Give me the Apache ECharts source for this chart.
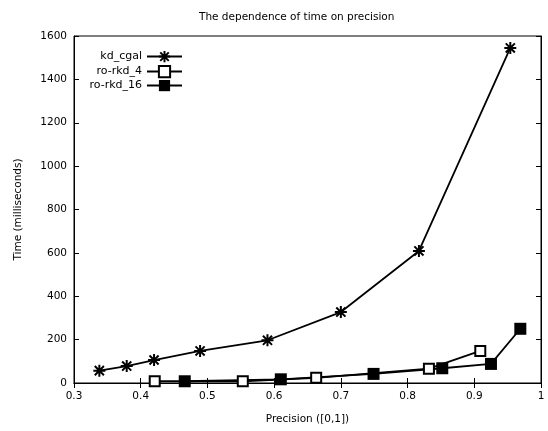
<!DOCTYPE html>
<html><head><meta charset="utf-8">
<script src="https://cdn.jsdelivr.net/npm/echarts@6/dist/echarts.min.js"></script>
<style>html,body{margin:0;padding:0;background:#fff}#c{width:548px;height:431px}</style>
</head><body><div id="c"></div>
<script>
var seriesNames = ['kd_cgal', 'ro-rkd_4', 'ro-rkd_16'];
var kdX = [0.338, 0.379, 0.420, 0.489, 0.590, 0.700, 0.817, 0.954];
var kdY = [57, 78, 106, 148, 197, 327, 609, 1545];
var rk4X = [0.421, 0.553, 0.663, 0.832, 0.909];
var rk4Y = [8, 8, 24, 66, 148];
var rk16X = [0.466, 0.610, 0.749, 0.852, 0.925, 0.969];
var rk16Y = [8, 17, 42, 68, 88, 250];
var xTicks = [0.3, 0.4, 0.5, 0.6, 0.7, 0.8, 0.9, 1];
var yTicks = [0, 200, 400, 600, 800, 1000, 1200, 1400, 1600];

function zip(xs, ys) { return xs.map(function (x, i) { return [x, ys[i]]; }); }
var FONT = 'DejaVu Sans';
var starPath = 'path://M5 0 L5 10 M0 5 L10 5 M1.2 1.2 L8.8 8.8 M1.2 8.8 L8.8 1.2';

var chart = echarts.init(document.getElementById('c'), null, {renderer: 'canvas'});
var tickStyle = {show: true, inside: true, length: 5, lineStyle: {color: '#000', width: 1}};
var lineAx = {show: true, lineStyle: {color: '#000', width: 1}};
var lbl = {color: '#000', fontFamily: FONT, fontSize: 10.5};

function legendFor(name, top) {
  return {
    data: [name], right: 365, top: top, padding: 0, align: 'right',
    itemWidth: 35, itemHeight: 14, selectedMode: false,
    textStyle: {color: '#000', fontFamily: FONT, fontSize: 11}
  };
}

chart.setOption({
  animation: false,
  backgroundColor: '#fff',
  title: {
    text: 'The dependence of time on precision', left: 194, top: 7,
    textStyle: {color: '#000', fontFamily: FONT, fontSize: 10.5, fontWeight: 'normal'}
  },
  legend: [legendFor(seriesNames[0], 50), legendFor(seriesNames[1], 65), legendFor(seriesNames[2], 80)],
  grid: {left: 74, right: 7, top: 36, bottom: 48, show: true, borderColor: '#000', borderWidth: 1, containLabel: false},
  xAxis: [{
    type: 'value', min: xTicks[0], max: xTicks[xTicks.length - 1], interval: 0.1,
    name: 'Precision ([0,1])', nameLocation: 'middle', nameGap: 31,
    nameTextStyle: {color: '#000', fontFamily: FONT, fontSize: 10.5},
    axisLine: lineAx, axisTick: tickStyle, splitLine: {show: false},
    axisLabel: Object.assign({margin: 8, formatter: function (v) { return String(+v.toFixed(1)); }}, lbl)
  }, {
    type: 'value', position: 'top', min: xTicks[0], max: xTicks[xTicks.length - 1], interval: 0.1,
    axisLine: lineAx, axisTick: tickStyle, axisLabel: {show: false}, splitLine: {show: false}
  }],
  yAxis: [{
    type: 'value', min: yTicks[0], max: yTicks[yTicks.length - 1], interval: 200,
    name: 'Time (milliseconds)', nameLocation: 'middle', nameGap: 50,
    nameTextStyle: {color: '#000', fontFamily: FONT, fontSize: 10.5},
    axisLine: lineAx, axisTick: tickStyle, splitLine: {show: false},
    axisLabel: Object.assign({margin: 7, formatter: function (v) { return String(v); }}, lbl)
  }, {
    type: 'value', position: 'right', min: yTicks[0], max: yTicks[yTicks.length - 1], interval: 200,
    axisLine: lineAx, axisTick: tickStyle, axisLabel: {show: false}, splitLine: {show: false}
  }],
  series: [{
    name: seriesNames[0], type: 'line', data: zip(kdX, kdY),
    symbol: starPath, symbolSize: 12,
    lineStyle: {color: '#000', width: 1.8},
    itemStyle: {color: '#000', borderColor: '#000', borderWidth: 2}
  }, {
    name: seriesNames[1], type: 'line', data: zip(rk4X, rk4Y),
    symbol: 'emptyRect', symbolSize: 10,
    lineStyle: {color: '#000', width: 1.8},
    itemStyle: {color: '#000', borderColor: '#000', borderWidth: 1.8}
  }, {
    name: seriesNames[2], type: 'line', data: zip(rk16X, rk16Y),
    symbol: 'rect', symbolSize: 12,
    lineStyle: {color: '#000', width: 1.8},
    itemStyle: {color: '#000', borderColor: '#000', borderWidth: 0}
  }]
});
</script></body></html>
